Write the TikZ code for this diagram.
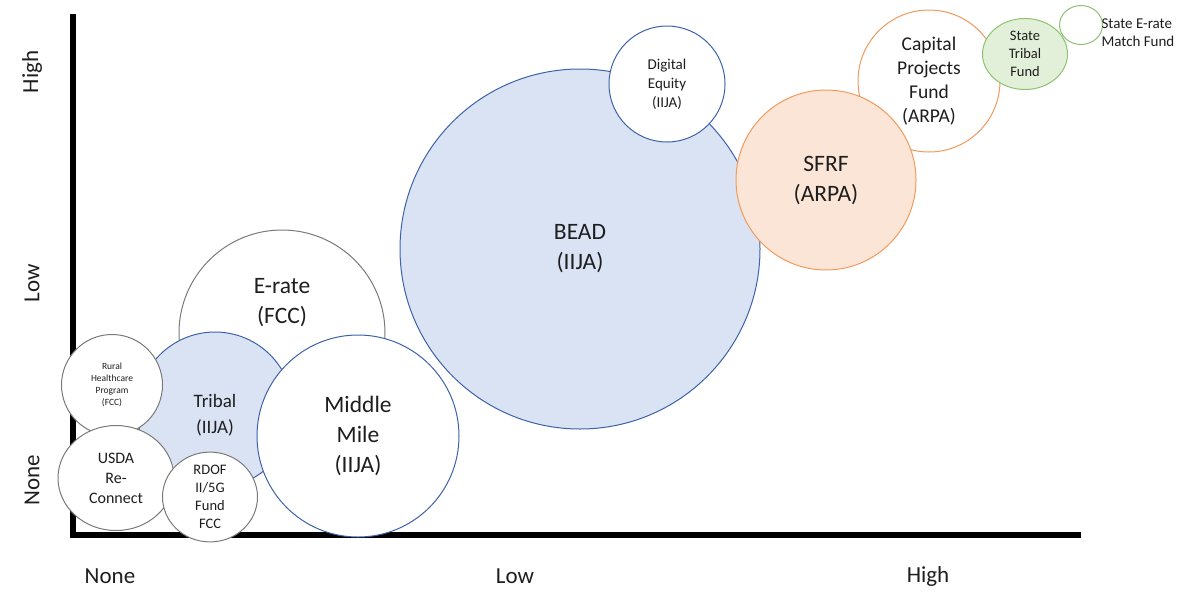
\documentclass[tikz,border=0pt]{standalone}
\usepackage{fontspec}
\setmainfont{Carlito}
\usetikzlibrary{shapes.geometric}
\definecolor{bluefill}{HTML}{DAE3F3}
\definecolor{blueline}{HTML}{3D62A8}
\definecolor{orfill}{HTML}{FBE5D6}
\definecolor{orline}{HTML}{F19A5B}
\definecolor{grfill}{HTML}{E2F0D9}
\definecolor{grline}{HTML}{8DC26F}
\definecolor{grayline}{HTML}{7A7A7A}
\definecolor{txt}{HTML}{1E1E1E}
\tikzset{
  bub/.style={circle, inner sep=0pt, line width=1pt, text=txt, align=center},
  ebub/.style={ellipse, inner sep=0pt, line width=1pt, text=txt, align=center},
  bluebub/.style={draw=blueline, fill=bluefill},
  whiteblue/.style={draw=blueline, fill=white},
  whitegray/.style={draw=grayline, fill=white},
  orbub/.style={draw=orline, fill=orfill},
  whiteor/.style={draw=orline, fill=white},
  grbub/.style={draw=grline, fill=grfill},
  whitegr/.style={draw=grline, fill=white},
  axis/.style={line width=6pt, black},
  axlab/.style={text=txt, font=\fontsize{23}{27}\selectfont},
  fbig/.style={font=\fontsize{23.5}{30}\selectfont},
  fmid/.style={font=\fontsize{19.5}{24}\selectfont},
  ftribal/.style={font=\fontsize{19}{26}\selectfont},
  fusda/.style={font=\fontsize{16}{20}\selectfont},
  fsmall/.style={font=\fontsize{14.5}{18}\selectfont},
  fsem/.style={font=\fontsize{15}{18}\selectfont},
  fde/.style={font=\fontsize{15}{19}\selectfont},
  ftiny/.style={font=\fontsize{9.5}{12}\selectfont},
}
\begin{document}
\begin{tikzpicture}[x=1pt,y=-1pt]
\useasboundingbox (0,0) rectangle (1180,592);
% axes
\coordinate (o) at (73,535);
\coordinate (ytop) at (73,14);
\coordinate (xend) at (1081,535);
\draw[axis] (ytop) -- (73,538);
\draw[axis] (70,535) -- (xend);
% axis labels
\node[axlab, rotate=90] (yhigh) at (32,72) {High};
\node[axlab, rotate=90] (ylow) at (32,283) {Low};
\node[axlab, rotate=90] (ynone) at (32,480) {None};
\node[axlab] (xnone) at (110,576) {None};
\node[axlab] (xlow) at (515,576) {Low};
\node[axlab] (xhigh) at (928,576) {High};
% BEAD and Digital Equity
\node[bub, bluebub, fbig, minimum size=360pt] (bead) at (580,249) {BEAD\\(IIJA)};
\node[bub, whiteblue, fde, minimum size=116pt] (de) at (667,84) {Digital\\Equity\\(IIJA)};
% Capital Projects and SFRF
\node[bub, whiteor, fmid, minimum size=142pt] (cpf) at (929,81) {Capital\\Projects\\Fund\\(ARPA)};
\node[bub, orbub, fbig, minimum size=180pt] (sfrf) at (826,180) {SFRF\\(ARPA)};
% State funds
\node[ebub, grbub, fsmall, minimum width=85pt, minimum height=71pt] (stf) at (1025,54) {State\\Tribal\\Fund};
\node[ebub, whitegr, minimum width=43pt, minimum height=39pt] (sem) at (1081,25) {};
\node[text=txt, fsem, align=left, anchor=west] (semlab) at (1098,33) {State E-rate\\Match Fund};
% left cluster
\node[bub, whitegray, minimum size=206pt] (erate) at (282,333) {};
\node[text=txt, fbig, align=center] (eratelab) at (282,303) {E-rate\\(FCC)};
\node[bub, bluebub, minimum size=156pt] (tribal) at (215,410) {};
\node[text=txt, ftribal, align=center] (triballab) at (215,415) {Tribal\\(IIJA)};
\node[bub, whiteblue, fbig, minimum size=202pt] (mm) at (358,436) {Middle\\Mile\\(IIJA)};
\node[bub, whitegray, ftiny, minimum size=101pt] (rural) at (112,385) {Rural\\Healthcare\\Program\\(FCC)};
\node[ebub, whitegray, fusda, minimum width=116pt, minimum height=105pt] (usda) at (116,478) {USDA\\Re-\\Connect};
\node[ebub, whitegray, fsmall, minimum width=95pt, minimum height=72pt] (rdof) at (210,497) {RDOF\\II/5G\\Fund\\FCC};
\end{tikzpicture}
\end{document}
